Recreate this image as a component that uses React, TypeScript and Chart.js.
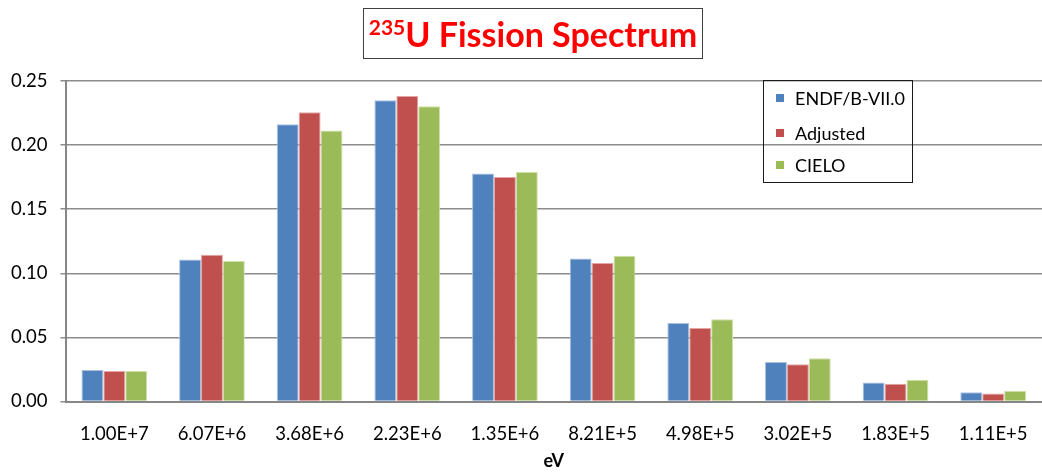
import React, { useEffect, useRef } from "react";
import { Chart, registerables } from "chart.js";

Chart.register(...registerables);

const categories = ["1.00E+7", "6.07E+6", "3.68E+6", "2.23E+6", "1.35E+6", "8.21E+5", "4.98E+5", "3.02E+5", "1.83E+5", "1.11E+5"];
const endfValues = [0.0245, 0.1108, 0.2163, 0.235, 0.1778, 0.1116, 0.0613, 0.0309, 0.0148, 0.0073];
const adjustedValues = [0.0237, 0.1145, 0.2256, 0.2383, 0.1752, 0.108, 0.0574, 0.0291, 0.0138, 0.0062];
const cieloValues = [0.0237, 0.1096, 0.2113, 0.2303, 0.1791, 0.1137, 0.0641, 0.0337, 0.0169, 0.0083];
const seriesNames = ["ENDF/B-VII.0", "Adjusted", "CIELO"];
const yTicks = [0, 0.05, 0.1, 0.15, 0.2, 0.25];
const xAxisTitle = "eV";

const FONT = "Lato, 'Liberation Sans', sans-serif";

const legendPlugin = {
  id: "boxLegend",
  afterDraw(chart: any) {
    const ctx = chart.ctx;
    const x0 = 763.5, y0 = 80.5, w = 149, h = 102;
    ctx.save();
    ctx.strokeStyle = "#1a1a1a";
    ctx.lineWidth = 1;
    ctx.strokeRect(x0, y0, w, h);
    const rows = [98, 133, 165];
    chart.data.datasets.forEach((ds: any, i: number) => {
      ctx.fillStyle = ds.backgroundColor;
      ctx.fillRect(776, rows[i] - 4, 8, 8);
      ctx.fillStyle = "#000";
      ctx.font = `18px ${FONT}`;
      ctx.textBaseline = "middle";
      ctx.textAlign = "left";
      ctx.fillText(ds.label, 795, rows[i] + 1);
    });
    ctx.restore();
  },
};

export default function App() {
  const ref = useRef<HTMLCanvasElement>(null);
  useEffect(() => {
    document.body.style.margin = "0";
    const canvas = ref.current!;
    const chart = new Chart(canvas, {
      type: "bar",
      data: {
        labels: categories,
        datasets: [
          { label: seriesNames[0], data: endfValues, backgroundColor: "#4f81bd", borderColor: "#a9c1e0", borderWidth: 1 },
          { label: seriesNames[1], data: adjustedValues, backgroundColor: "#c0504d", borderColor: "#e3a6a4", borderWidth: 1 },
          { label: seriesNames[2], data: cieloValues, backgroundColor: "#9bbb59", borderColor: "#cfe0ad", borderWidth: 1 },
        ],
      },
      options: {
        responsive: false,
        animation: false,
        layout: { padding: { top: 81, right: -6, left: 0, bottom: 0 } },
        plugins: { legend: { display: false }, tooltip: { enabled: false }, title: { display: false } },
        datasets: { bar: { categoryPercentage: 0.673, barPercentage: 1 } },
        scales: {
          x: {
            grid: { display: false, drawTicks: false },
            border: { display: true, color: "#868686", width: 2 },
            ticks: { color: "#000", font: { family: FONT, size: 18.5 }, padding: 21, maxRotation: 0 },
            title: { display: true, text: xAxisTitle, color: "#000", font: { family: FONT, size: 18, weight: "bold" }, padding: { top: 0, bottom: 2 } },
            afterFit: (s: any) => { s.height = 72.5; s.paddingLeft = 0; s.paddingRight = 0; },
          },
          y: {
            min: 0,
            max: 0.25,
            afterBuildTicks: (s: any) => { s.ticks = yTicks.map((v) => ({ value: v })); },
            grid: { color: "#8c8c8c", lineWidth: 1.5, tickLength: 5, drawTicks: true },
            border: { display: true, color: "#868686", width: 2 },
            ticks: { color: "#000", font: { family: FONT, size: 18.5 }, padding: 13, callback: (v: any) => Number(v).toFixed(2) },
            afterFit: (s: any) => { s.width = 65.5; s.paddingTop = 0; s.paddingBottom = 0; },
          },
        },
      },
      plugins: [legendPlugin],
    });
    return () => chart.destroy();
  }, []);

  return (
    <div style={{ position: "absolute", left: 0, top: 0, width: 1042, height: 474, background: "#fff", overflow: "hidden" }}>
      <canvas ref={ref} width={1042} height={474} style={{ position: "absolute", left: 0, top: 0 }} />
      <div
        style={{
          position: "absolute",
          left: 363,
          top: 8,
          width: 338,
          height: 49,
          border: "1.5px solid #404040",
          display: "flex",
          alignItems: "center",
          justifyContent: "center",
          fontFamily: FONT,
          fontWeight: "bold",
          fontSize: 34,
          color: "#ff0000",
          lineHeight: 1,
          whiteSpace: "nowrap",
        }}
      >
        <span><sup style={{ fontSize: 21, verticalAlign: "0.55em" }}>235</sup>U Fission Spectrum</span>
      </div>
    </div>
  );
}
